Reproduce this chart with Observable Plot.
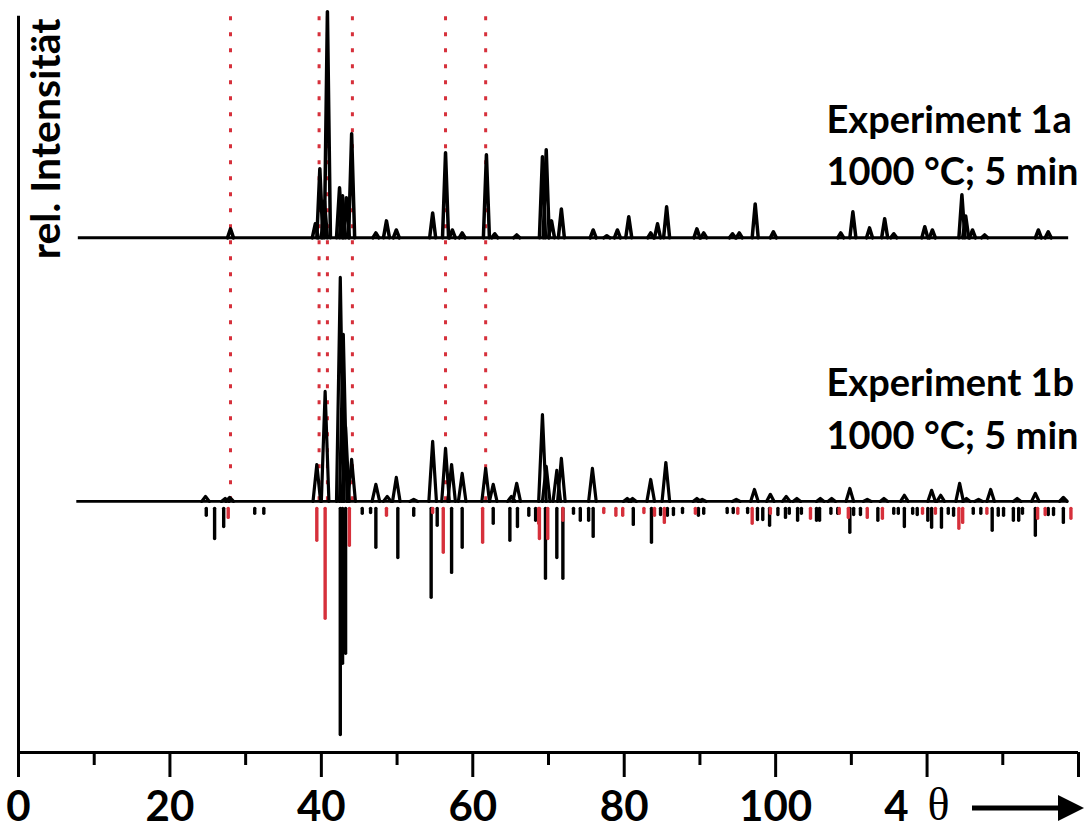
<!DOCTYPE html>
<html><head><meta charset="utf-8">
<script src="https://cdn.jsdelivr.net/npm/d3@7"></script>
<script src="https://cdn.jsdelivr.net/npm/@observablehq/plot@0.6"></script>
<style>body{margin:0;background:#fff}</style>
</head><body><div id="chart"></div>
<script>
// ---- data (x in 4θ units, heights in relative %) ----
const xMajorTicks = [0, 20, 40, 60, 80, 100, 120, 140];
const xMinorTicks = [10, 30, 50, 70, 90, 110, 130];
const xLabelMax = 100;

const refLinesX = [28.0, 39.7, 40.8, 44.1, 56.4, 61.7];

const range1a = [7.9, 138.7];
const peaks1aX = [28.0,39.2,39.8,40.4,40.8,42.4,42.8,43.3,44.0,47.2,48.6,49.9,54.7,56.4,57.3,58.6,61.8,62.9,65.8,69.2,69.7,70.4,71.7,75.9,77.7,79.1,80.6,83.5,84.4,85.6,89.6,90.5,94.3,95.2,97.3,99.7,108.6,110.2,112.4,114.4,115.6,119.7,120.7,124.6,125.1,126.0,127.6,134.7,136.0];
const peaks1aH = [4.0,6.2,30.5,16.3,100,22.1,18.6,17.7,46.0,2.2,7.5,3.5,11.0,37.6,3.5,2.2,36.7,1.8,1.3,35.8,38.9,7.5,12.8,3.5,0.9,3.5,9.3,2.2,6.2,13.7,4.0,2.2,1.8,2.2,15.0,2.7,2.2,11.5,4.4,8.4,1.8,4.9,3.5,19.0,9.7,3.5,1.3,3.5,2.7];

const range1b = [7.7, 138.7];
const peaks1bX = [24.7,27.3,27.9,39.4,40.5,42.5,42.9,43.2,44.0,47.2,48.7,49.9,52.2,54.7,56.4,57.2,58.6,61.7,62.7,65.1,65.8,69.2,69.7,71.1,71.7,75.8,80.4,81.1,83.5,85.5,89.6,90.3,94.8,97.2,99.3,101.4,102.8,105.9,107.4,109.8,112.1,114.3,117.0,120.6,121.8,124.3,125.2,126.8,128.4,131.9,134.3,138.0];
const peaks1bH = [2.2,1.3,1.8,16.3,48.6,99,73.8,33,18.6,7.5,2.2,10.6,0.9,26.5,23.4,16.3,12.4,14.6,7.5,2.2,8.0,38.4,15.5,13.7,19.0,14.6,1.3,1.3,9.7,17.2,1.3,0.9,0.9,5.3,3.1,2.2,1.3,1.3,1.3,5.7,0.9,1.3,2.7,4.9,2.7,8.0,1.3,0.9,5.3,1.3,3.5,1.8];

const sticksBlackX = [24.8,25.9,27.1,31.2,32.4,42.5,42.8,43.2,45.4,46.5,47.2,50.1,52.2,54.5,55.3,57.2,58.6,62.7,64.9,65.9,67.4,68.3,69.6,71.1,71.9,73.3,74.2,75.3,75.9,81.2,83.6,84.8,85.7,86.5,87.7,89.8,90.5,93.6,94.4,96.3,97.6,98.3,99.2,100.3,101.3,101.8,102.9,103.4,105.4,105.8,107.3,108.2,109.8,110.3,111.2,113.5,115.6,116.2,117.0,118.1,118.7,120.1,120.6,121.9,122.8,123.5,126.1,127.1,128.6,129.4,130.1,131.4,132.1,132.6,134.3,136.0,136.7,138.0];
const sticksBlackI = [3.1,13.3,8.0,2.2,2.2,100,68.5,64.1,2.2,1.8,17.2,21.7,3.1,39.3,7.5,28.3,17.2,6.6,14.1,8.0,3.1,5.3,30.9,21.7,30.9,2.2,5.3,5.3,12.4,7.1,15.0,2.7,3.1,2.7,1.8,3.1,2.2,1.8,1.8,1.8,4.9,4.9,7.5,2.7,4.0,2.2,5.3,2.2,5.3,5.3,2.2,2.2,10.6,2.7,2.7,5.3,2.2,2.2,8.0,2.2,2.7,5.3,8.4,8.4,2.2,3.1,2.2,2.2,9.7,3.1,3.1,5.3,5.3,2.2,11.9,2.7,2.7,6.2];

const sticksRedX = [27.7,39.4,40.5,43.7,48.6,54.7,56.1,61.3,68.7,68.8,69.9,71.9,77.3,78.9,79.8,82.6,84.0,85.3,89.4,95.0,96.9,99.3,104.6,108.4,109.6,112.1,114.1,119.4,121.1,124.2,124.7,127.9,134.6,135.6,139.0];
const sticksRedI = [4.0,14.1,48.6,16.3,3.1,1.8,19.4,15.0,6.6,13.3,13.3,5.3,1.8,3.1,3.1,1.8,3.1,6.2,2.2,2.2,6.6,2.2,4.4,2.2,4.0,4.0,4.4,2.2,2.2,8.8,6.2,2.2,4.4,2.7,4.4];

const label1a = "Experiment 1a\n1000 °C; 5 min";
const label1b = "Experiment 1b\n1000 °C; 5 min";
const yLabel = "rel. Intensität";

// ---- layout of the stacked patterns (offsets in intensity units) ----
const offset1a = 116.5, offset1b = 0, stickOrigin = -3.3;
const RED = "#d6303b";

function spikes(xs, hs, base, hw) {
  return xs.flatMap((x, i) => [
    {x: x - hw, y: base, z: i},
    {x: x, y: base + hs[i], z: i},
    {x: x + hw, y: base, z: i}
  ]);
}
const sp1a = spikes(peaks1aX, peaks1aH, offset1a, 0.4);
const sp1b = spikes(peaks1bX, peaks1bH, offset1b, 0.5);
const sBlack = sticksBlackX.map((x, i) => ({x, i: sticksBlackI[i]}));
const sRed = sticksRedX.map((x, i) => ({x, i: sticksRedI[i]}));

const plot = Plot.plot({
  width: 1089, height: 832,
  marginLeft: 18, marginRight: 11, marginTop: 10, marginBottom: 80,
  x: {domain: [0, 140], axis: null, label: null},
  y: {domain: [-111, 217], axis: null, label: null},
  clip: false,
  style: {fontFamily: "Lato, 'Open Sans', sans-serif", background: "#fff", color: "#000", overflow: "visible"},
  marks: [
    Plot.ruleX(refLinesX, {y1: 0.3, y2: 215.5, stroke: RED, strokeWidth: 3, strokeDasharray: "4 12"}),
    Plot.ruleY([offset1a], {x1: range1a[0], x2: range1a[1], strokeWidth: 3}),
    Plot.line(sp1a, {x: "x", y: "y", z: "z", strokeWidth: 3.5}),
    Plot.ruleY([offset1b], {x1: range1b[0], x2: range1b[1], strokeWidth: 2.8}),
    Plot.line(sp1b, {x: "x", y: "y", z: "z", strokeWidth: 3.2}),
    Plot.ruleX(sBlack, {x: "x", y1: stickOrigin, y2: d => stickOrigin - d.i, strokeWidth: 3.4, strokeLinecap: "round"}),
    Plot.ruleX(sRed, {x: "x", y1: stickOrigin, y2: d => stickOrigin - d.i, stroke: RED, strokeWidth: 3.4, strokeLinecap: "round"}),
    // axes
    Plot.ruleY([-111], {x1: 0, x2: 140, strokeWidth: 3}),
    Plot.ruleX([0], {y1: -111, y2: 214.5, strokeWidth: 3}),
    Plot.axisX({ticks: xMajorTicks, tickSize: 25, strokeWidth: 3, tickPadding: 14, label: null,
      tickFormat: d => d <= xLabelMax ? String(d) : "", fontSize: 42, fontWeight: "bold"}),
    Plot.axisX({ticks: xMinorTicks, tickSize: 13, strokeWidth: 3, label: null, tickFormat: () => ""}),
    // annotations
    Plot.text([label1a], {text: d => d, frameAnchor: "top-left", dx: 808, dy: 85, lineAnchor: "top",
      textAnchor: "start", fontSize: 38, fontWeight: "bold", lineHeight: 1.38}),
    Plot.text([label1b], {text: d => d, frameAnchor: "top-left", dx: 808, dy: 348, lineAnchor: "top",
      textAnchor: "start", fontSize: 38, fontWeight: "bold", lineHeight: 1.4}),
    Plot.text([yLabel], {text: d => d, frameAnchor: "top-left", dx: 12, dy: 8, rotate: -90,
      textAnchor: "end", lineAnchor: "top", fontSize: 41, fontWeight: "bold"}),
    Plot.text(["4"], {text: d => d, frameAnchor: "bottom-left", dx: 878, dy: 55, lineAnchor: "middle",
      textAnchor: "middle", fontSize: 42, fontWeight: "bold"}),
    Plot.text(["θ"], {text: d => d, frameAnchor: "bottom-left", dx: 920, dy: 53, lineAnchor: "middle",
      textAnchor: "middle", fontSize: 46, fontFamily: "'Liberation Serif', serif"})
  ]
});

// arrow after the θ label
const svg = d3.select(plot);
svg.append("line").attr("x1", 972).attr("x2", 1064).attr("y1", 808).attr("y2", 808)
  .attr("stroke", "#000").attr("stroke-width", 5);
svg.append("path").attr("d", "M1058,795 L1084,808 L1058,821 Z").attr("fill", "#000");

document.getElementById("chart").appendChild(plot);
</script>
</body></html>
